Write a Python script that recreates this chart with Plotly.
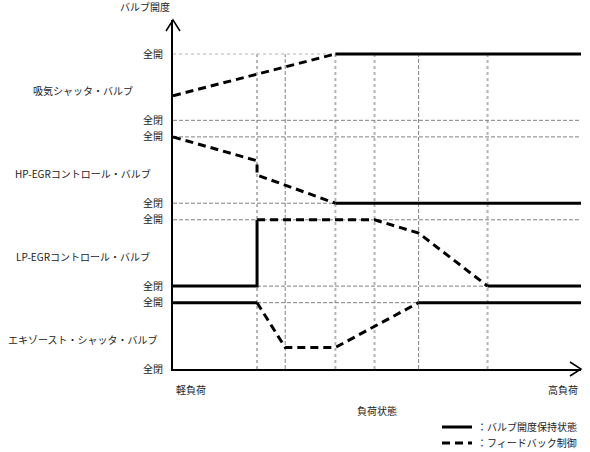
import plotly.graph_objects as go

# ---- data (load-state positions in %, valve openings in stacked band units) ----
load_marks = [20.6, 27.5, 39.8, 49.4, 60.2, 77.1]
mark_styles = ["light", "dark", "light", "light", "dark", "light"]

band_levels = [0, 4, 5, 9, 10, 14, 15, 19]
band_labels = ["全閉", "全開", "全閉", "全開", "全閉", "全開", "全閉", "全開"]

valve_names = ["吸気シャッタ・バルブ", "HP-EGRコントロール・バルブ",
               "LP-EGRコントロール・バルブ", "エキゾースト・シャッタ・バルブ"]
valve_label_y = [16.8, 11.8, 6.8, 1.8]

# intake shutter valve
intake_fb_x = [0, 39.8]
intake_fb_y = [16.48, 19]
intake_hold_x = [39.8, 100]
intake_hold_y = [19, 19]

# HP-EGR control valve
hp_fb_x = [0, 20.6, 20.6, 39.8]
hp_fb_y = [14, 12.56, 11.7, 10]
hp_hold_x = [39.8, 100]
hp_hold_y = [10, 10]

# LP-EGR control valve
lp_hold1_x = [0, 20.6, 20.6]
lp_hold1_y = [5, 5, 9]
lp_fb_x = [20.6, 49.4, 60.2, 77.1]
lp_fb_y = [9, 9, 8.2, 5]
lp_hold2_x = [77.1, 100]
lp_hold2_y = [5, 5]

# exhaust shutter valve
ex_hold1_x = [0, 20.6]
ex_hold1_y = [4, 4]
ex_fb_x = [20.6, 27.5, 39.8, 60.2]
ex_fb_y = [4, 1.3, 1.3, 4]
ex_hold2_x = [60.2, 100]
ex_hold2_y = [4, 4]

legend_hold = "：バルブ開度保持状態"
legend_fb = "：フィードバック制御"

# ---- layout geometry ----
W, H = 590, 452
FONT = "Noto Sans CJK JP"


def px(x):
    return x / W


def py(y):
    return (H - y) / H


X0, X1 = 173, 581      # pixel x of load 0 and 100
Y0, Y19 = 369, 54      # pixel y of level 0 and 19
k = (Y0 - Y19) / 19
ytop = (Y0 - 20) / k

fig = go.Figure()

hold_style = dict(color="black", width=3)
fb_style = dict(color="black", width=3, dash="8px,5px")

hold_series = [(intake_hold_x, intake_hold_y), (hp_hold_x, hp_hold_y),
               (lp_hold1_x, lp_hold1_y), (lp_hold2_x, lp_hold2_y),
               (ex_hold1_x, ex_hold1_y), (ex_hold2_x, ex_hold2_y)]
fb_series = [(intake_fb_x, intake_fb_y), (hp_fb_x, hp_fb_y),
             (lp_fb_x, lp_fb_y), (ex_fb_x, ex_fb_y)]

for i, (xs, ys) in enumerate(hold_series):
    fig.add_trace(go.Scatter(x=xs, y=ys, mode="lines", line=hold_style,
                             name=legend_hold, legend="legend",
                             showlegend=(i == 0), hoverinfo="skip"))
for i, (xs, ys) in enumerate(fb_series):
    fig.add_trace(go.Scatter(x=xs, y=ys, mode="lines", line=fb_style,
                             name=legend_fb, legend="legend2",
                             showlegend=(i == 0), hoverinfo="skip"))

shapes = []
for xm, st in zip(load_marks, mark_styles):
    if st == "light":
        line = dict(color="#b4b4b4", width=2, dash="3px,3px")
    else:
        line = dict(color="#808080", width=1, dash="4px,2px")
    shapes.append(dict(type="line", xref="x", yref="y", x0=xm, x1=xm,
                       y0=0, y1=19, line=line, layer="below"))
for lv in band_levels[1:]:
    col = "#b4b4b4" if lv == 19 else "#808080"
    dash = "3px,3px" if lv == 19 else "4px,2px"
    shapes.append(dict(type="line", xref="x", yref="y", x0=0, x1=100,
                       y0=lv, y1=lv, line=dict(color=col, width=1, dash=dash),
                       layer="below"))

# axis arrow heads
shapes.append(dict(type="path", xref="paper", yref="paper",
                   path=f"M {px(166)},{py(31)} L {px(173)},{py(20)} L {px(180)},{py(31)}",
                   line=dict(color="black", width=1.5)))
shapes.append(dict(type="path", xref="paper", yref="paper",
                   path=f"M {px(570)},{py(362)} L {px(581)},{py(369)} L {px(570)},{py(376)}",
                   line=dict(color="black", width=1.5)))

annotations = []
for name, yv in zip(valve_names, valve_label_y):
    annotations.append(dict(text=name, xref="paper", yref="y", x=px(83), y=yv,
                            xanchor="center", yanchor="middle", showarrow=False))
annotations += [
    dict(text="バルブ開度", xref="paper", yref="paper", x=px(145), y=py(7),
         xanchor="center", yanchor="middle", showarrow=False),
    dict(text="軽負荷", xref="paper", yref="paper", x=px(174), y=py(389),
         xanchor="left", yanchor="middle", showarrow=False),
    dict(text="高負荷", xref="paper", yref="paper", x=px(580), y=py(389),
         xanchor="right", yanchor="middle", showarrow=False),
    dict(text="負荷状態", xref="paper", yref="paper", x=px(377), y=py(410),
         xanchor="center", yanchor="middle", showarrow=False),
]

legend_common = dict(xanchor="left", yanchor="middle",
                     font=dict(family=FONT, size=10, color="#222"),
                     bgcolor="rgba(0,0,0,0)", itemwidth=30)

fig.update_layout(
    width=W, height=H,
    margin=dict(l=0, r=0, t=0, b=0, autoexpand=False),
    paper_bgcolor="white", plot_bgcolor="white",
    font=dict(family=FONT, size=10, color="#222"),
    shapes=shapes, annotations=annotations,
    showlegend=True,
    legend=dict(x=px(437), y=py(427), **legend_common),
    legend2=dict(x=px(437), y=py(443), **legend_common),
    xaxis=dict(domain=[px(X0), px(X1)], range=[0, 100], showgrid=False,
               zeroline=False, showticklabels=False, ticks="", automargin=False,
               showline=True, linecolor="black", linewidth=2),
    yaxis=dict(domain=[py(Y0), py(20)], range=[0, ytop], showgrid=False,
               zeroline=False, tickvals=band_levels, ticktext=band_labels,
               ticks="", ticklabelstandoff=6, automargin=False,
               showline=True, linecolor="black", linewidth=2),
)

fig.write_html("out.html", config={"displayModeBar": False},
               post_script="document.body.style.margin='0';document.body.style.padding='0';")
